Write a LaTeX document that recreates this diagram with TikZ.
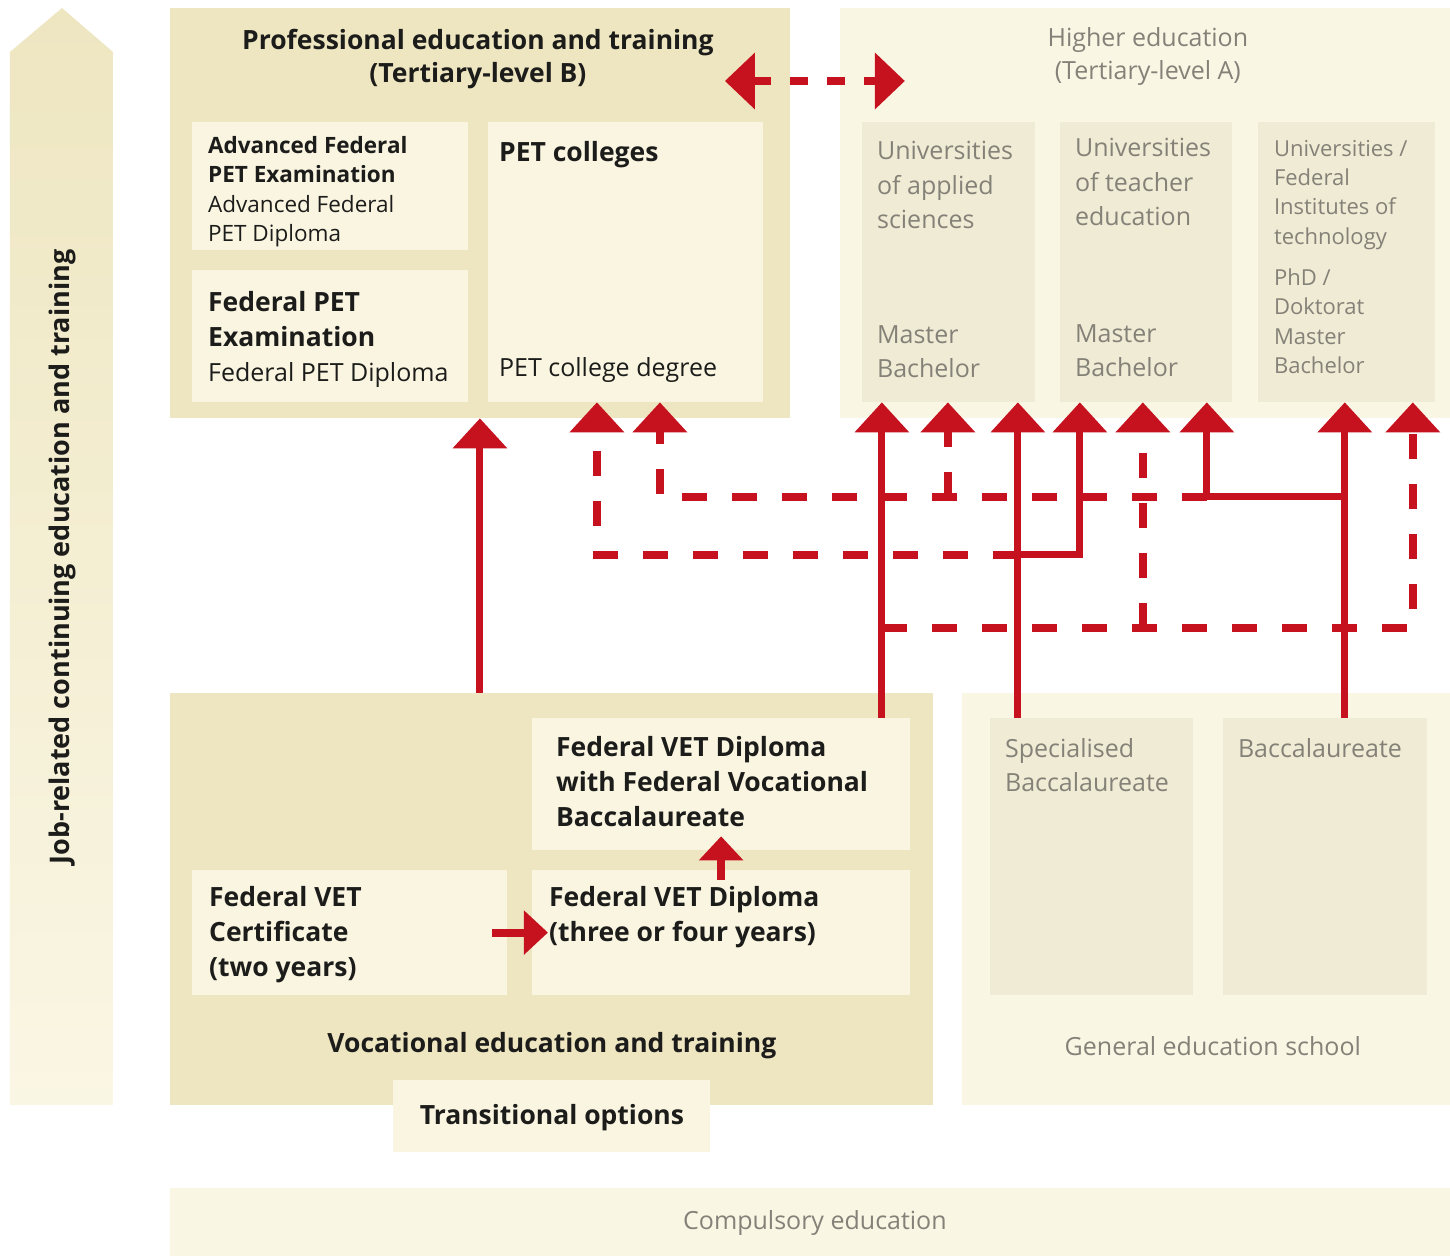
\documentclass[tikz,border=0pt]{standalone}
\usepackage{fontspec}
\setmainfont{Open Sans}
\usetikzlibrary{arrows.meta}
\definecolor{vetdark}{RGB}{238,230,193}
\definecolor{vetlight}{RGB}{249,245,225}
\definecolor{helight}{RGB}{250,246,228}
\definecolor{hebox}{RGB}{240,235,212}
\definecolor{swissred}{RGB}{198,18,30}
\definecolor{greytext}{RGB}{132,130,120}
\definecolor{darktext}{RGB}{28,28,26}
\tikzset{
  panel/.style={fill=#1, anchor=north west, inner sep=0pt},
  txt/.style={anchor=north west, inner sep=0pt, align=left, text=darktext,
    font=\fontsize{25}{34.5}\selectfont},
  gtxt/.style={txt, text=greytext},
  bold/.style={font=\bfseries\fontsize{26.5}{35}\selectfont},
  link/.style={draw=swissred, line width=7pt, -{Triangle[width=53pt,length=30pt]}},
  dlink/.style={link, line width=8pt, dash pattern=on 25pt off 25pt},
  slink/.style={draw=swissred, line width=8pt, -{Triangle[width=43pt,length=24pt]}},
}
\begin{document}
\begin{tikzpicture}[x=1pt, y=-1pt]
  \fill[white] (0,0) rectangle (1450,1256);
  % continuing education
  \shade[top color=vetdark, bottom color=helight]
    (10,1105) -- (10,52) -- (62,8) -- (113,52) -- (113,1105) -- cycle;
  \node[bold, font=\bfseries\fontsize{27}{33}\selectfont, rotate=90, text=darktext] (cet) at (62,557)
    {Job-related continuing education and training};

  % tertiary level
  \node[panel=vetdark, minimum width=620pt, minimum height=410pt] (pet) at (170,8) {};
  \node[panel=helight, minimum width=610pt, minimum height=410pt] (he) at (840,8) {};
  \node[panel=vetlight, minimum width=276pt, minimum height=128pt] (advfed) at (192,122) {};
  \node[panel=vetlight, minimum width=276pt, minimum height=132pt] (fedpet) at (192,270) {};
  \node[panel=vetlight, minimum width=275pt, minimum height=280pt] (petcol) at (488,122) {};
  \node[panel=hebox, minimum width=173pt, minimum height=280pt] (uas) at (862,122) {};
  \node[panel=hebox, minimum width=172pt, minimum height=280pt] (ute) at (1060,122) {};
  \node[panel=hebox, minimum width=177pt, minimum height=280pt] (eth) at (1258,122) {};

  \node[txt, bold, font=\bfseries\fontsize{26.5}{33}\selectfont, align=center, anchor=center] (pet-t) at (478,59)
    {Professional education and training\\(Tertiary-level B)};
  \node[gtxt, font=\fontsize{25}{33}\selectfont, align=center, anchor=center] (he-t) at (1148,57)
    {Higher education\\(Tertiary-level A)};
  \node[txt, font=\fontsize{22.5}{29.5}\selectfont] (advfed-t) at (208,136)
    {\textbf{Advanced Federal}\\\textbf{PET Examination}\\Advanced Federal\\PET Diploma};
  \node[txt, font=\fontsize{25}{35}\selectfont] (fedpet-t) at (208,291)
    {\textbf{\fontsize{26.5}{35}\selectfont Federal PET}\\\textbf{\fontsize{26.5}{35}\selectfont Examination}\\Federal PET Diploma};
  \node[txt, bold] (petcol-t) at (499,141) {PET colleges};
  \node[txt] (petcol-d) at (499,357) {PET college degree};
  \node[gtxt] (uas-t) at (877,141) {Universities\\of applied\\sciences};
  \node[gtxt] (uas-d) at (877,325) {Master\\Bachelor};
  \node[gtxt] (ute-t) at (1075,138) {Universities\\of teacher\\education};
  \node[gtxt] (ute-d) at (1075,324) {Master\\Bachelor};
  \node[gtxt, font=\fontsize{22}{29.3}\selectfont] (eth-t) at (1274,140)
    {Universities /\\Federal\\Institutes of\\technology\\[12pt]PhD /\\Doktorat\\Master\\Bachelor};

  % upper secondary level
  \node[panel=vetdark, minimum width=763pt, minimum height=412pt] (vet) at (170,693) {};
  \node[panel=helight, minimum width=488pt, minimum height=412pt] (gen) at (962,693) {};
  \node[panel=vetlight, minimum width=378pt, minimum height=132pt] (vetbacc) at (532,718) {};
  \node[panel=vetlight, minimum width=378pt, minimum height=125pt] (vetdip) at (532,870) {};
  \node[panel=vetlight, minimum width=315pt, minimum height=125pt] (vetcert) at (192,870) {};
  \node[panel=vetlight, minimum width=317pt, minimum height=72pt] (trans) at (393,1080) {};
  \node[panel=hebox, minimum width=203pt, minimum height=277pt] (specbacc) at (990,718) {};
  \node[panel=hebox, minimum width=204pt, minimum height=277pt] (bacc) at (1223,718) {};
  \node[panel=helight, minimum width=1280pt, minimum height=68pt] (comp) at (170,1188) {};

  \node[txt, bold] (vetbacc-t) at (556,736)
    {Federal VET Diploma\\with Federal Vocational\\Baccalaureate};
  \node[txt, bold] (vetdip-t) at (549,886) {Federal VET Diploma\\(three or four years)};
  \node[txt, bold] (vetcert-t) at (209,886) {Federal VET\\Certificate\\(two years)};
  \node[txt, bold, anchor=center] (vet-t) at (552,1046) {Vocational education and training};
  \node[txt, bold, anchor=center] (trans-t) at (552,1118) {Transitional options};
  \node[gtxt] (specbacc-t) at (1005,738) {Specialised\\Baccalaureate};
  \node[gtxt] (bacc-t) at (1238,738) {Baccalaureate};
  \node[gtxt, anchor=center] (gen-t) at (1213,1046) {General education school};
  \node[gtxt, anchor=center] (comp-t) at (815,1223) {Compulsory education};

  % pathways
  \foreach \n/\x in {vetup/480, pc1/597, pc2/660, u1/882, u2/948, u3/1018,
                     t1/1080, t2/1143, t3/1207, e1/1345, e2/1413}
    \coordinate (\n) at (\x,0);
  \coordinate (ra) at (0,497);
  \coordinate (rb) at (0,555);
  \coordinate (rc) at (0,628);
  \coordinate (pl) at (725,81);
  \coordinate (hr) at (905,81);

  \draw[dlink, {Triangle[width=55pt,length=30pt]}-{Triangle[width=55pt,length=30pt]},
    dash pattern=on 18pt off 19pt] (pl) -- (hr);
  \draw[dlink] (u1 |- rc) -| (e2 |- eth.south);
  \draw[dlink] (t2 |- rc) -- (t2 |- ute.south);
  \draw[dlink] (u3 |- rb) -| (pc1 |- petcol.south);
  \draw[dlink] (t3 |- ra) -| (pc2 |- petcol.south);
  \draw[dlink] (u2 |- ra) -- (u2 |- uas.south);
  \draw[link] (vetup |- vet.north) -- (vetup |- pet.south);
  \draw[link] (u1 |- vetbacc.north) -- (u1 |- uas.south);
  \draw[link] (u3 |- specbacc.north) -- (u3 |- uas.south);
  \draw[link] (u3 |- rb) -| (t1 |- ute.south);
  \draw[link] (e1 |- bacc.north) -- (e1 |- eth.south);
  \draw[link] (e1 |- ra) -| (t3 |- ute.south);
  \draw[slink] ([xshift=-15pt]vetcert.east) -- ([xshift=16pt]vetdip.west);
  \draw[slink] ([yshift=-10pt]vetdip.north) -- ([yshift=14pt]vetbacc.south);
\end{tikzpicture}
\end{document}
